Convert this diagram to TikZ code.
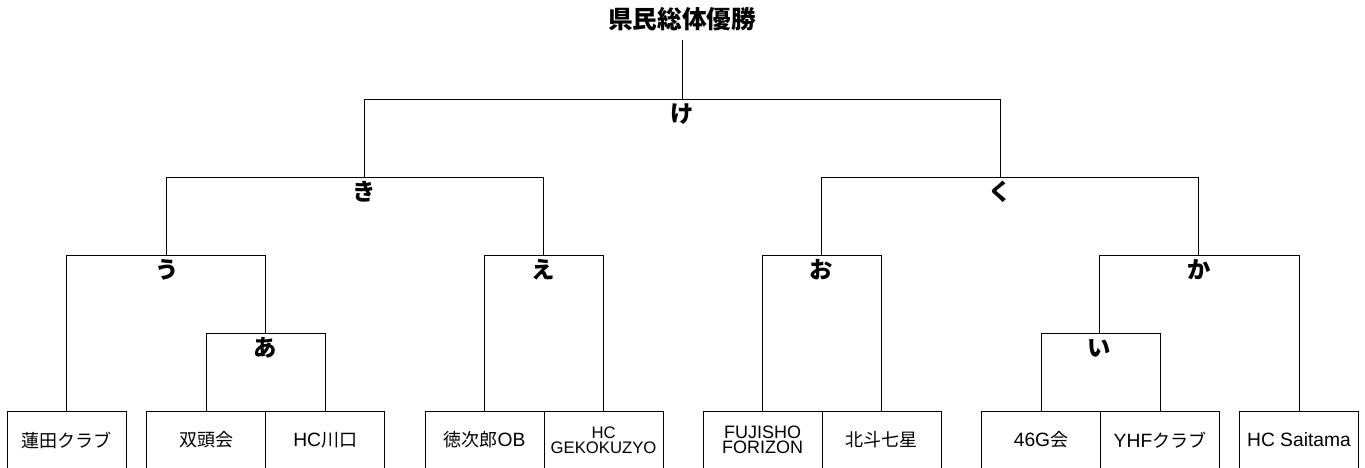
\documentclass[tikz,border=0pt]{standalone}
\usepackage{fontspec}
\setmainfont{Noto Sans CJK JP}
\newfontfamily\latin{Liberation Sans}[Scale=1.07]
\tikzstyle{team}=[rectangle,inner sep=0pt,outer sep=0pt,minimum width=89.25pt,
minimum height=43.5pt,align=center,font=\fontsize{13.5}{15}\selectfont]
\tikzstyle{match}=[inner sep=0pt,text height=13.5pt,text depth=2.2pt,
font=\bfseries\fontsize{17.5}{19}\selectfont]
\tikzstyle{cup}=[inner sep=0pt,text depth=9pt,font=\bfseries\fontsize{18.5}{20}\selectfont]
\tikzstyle{bracket}=[line width=0.75pt,black]
\usetikzlibrary{positioning}

\begin{document}
\begin{tikzpicture}[x=0.75pt,y=-0.75pt,node distance=15.3pt]
            \useasboundingbox (0,0) rectangle (1365,468);

            % TEAMS

            \node[team] (hasuda) at (66.8,440) {蓮田クラブ};
            \node[team,right=15.3pt of hasuda] (soto) {双頭会};
            \node[team,right=0pt of soto] (kawaguchi) {{\latin HC}川口};
            \node[team,right=30.3pt of kawaguchi] (tokujiro) {徳次郎{\latin OB}};
            \node[team,right=0pt of tokujiro,font=\latin\fontsize{11.7}{11.25}\selectfont] (geko) {HC\\GEKOKUZYO};
            \node[team,right=30pt of geko,font=\latin\fontsize{12.6}{11.6}\selectfont] (fuji) {FUJISHO\\FORIZON};
            \node[team,right=0pt of fuji] (hokuto) {北斗七星};
            \node[team,right=30.3pt of hokuto] (g46) {{\latin 46G}会};
            \node[team,right=0pt of g46] (yhf) {{\latin YHF}クラブ};
            \node[team,right=15pt of yhf,font=\latin\fontsize{13.5}{15}\selectfont] (saitama) {HC Saitama};

            \foreach \t in {hasuda,soto,kawaguchi,tokujiro,geko,fuji,hokuto,g46,yhf,saitama}
                \draw[bracket] (\t.south west) |- (\t.north east) -- (\t.south east);

            % FIRST ROUND

            \coordinate (mA) at (265.5,333.5);
            \coordinate (mI) at (1099.5,333.5);
            \node[match,below=3.5pt of mA] (lA) {あ};
            \node[match,below=3.5pt of mI] (lI) {い};

            \draw[bracket] (soto.north) |- (mA) -| (kawaguchi.north);
            \draw[bracket] (g46.north) |- (mI) -| (yhf.north);

            % SECOND ROUND

            \coordinate (mU) at (166.7,255.3);
            \coordinate (mE) at (543.5,255.3);
            \coordinate (mO) at (821.5,255.3);
            \coordinate (mKa) at (1198.7,255.3);
            \node[match,below=3.5pt of mU] (lU) {う};
            \node[match,below=3.5pt of mE] (lE) {え};
            \node[match,below=3.5pt of mO] (lO) {お};
            \node[match,below=3.5pt of mKa] (lKa) {か};

            \draw[bracket] (hasuda.north) |- (mU) -| (mA);
            \draw[bracket] (tokujiro.north) |- (mE) -| (geko.north);
            \draw[bracket] (fuji.north) |- (mO) -| (hokuto.north);
            \draw[bracket] (mI) |- (mKa) -| (saitama.north);

            % SEMI FINALS

            \coordinate (mKi) at (364.3,177.3);
            \coordinate (mKu) at (1000.3,177.3);
            \node[match,below=3.5pt of mKi] (lKi) {き};
            \node[match,below=3.5pt of mKu] (lKu) {く};

            \draw[bracket] (mU) |- (mKi) -| (mE);
            \draw[bracket] (mO) |- (mKu) -| (mKa);

            % FINAL

            \coordinate (mKe) at (682.3,99.3);
            \node[match,below=3.5pt of mKe] (lKe) {け};
            \node[cup,above=44.25pt of mKe] (cup) {県民総体優勝};

            \draw[bracket] (mKi) |- (mKe) -| (mKu);
            \draw[bracket] (mKe) -- (cup);

\end{tikzpicture}
\end{document}
